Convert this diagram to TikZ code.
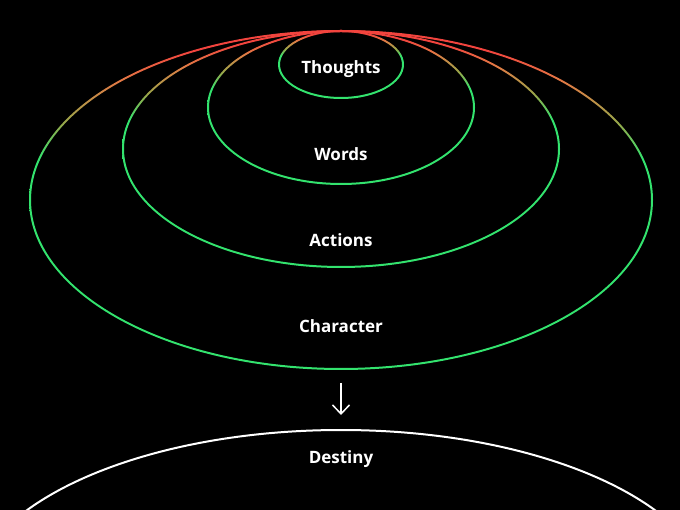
\documentclass[tikz,border=0pt]{standalone}
\usepackage{fontspec}
\newfontfamily\lblfont{Open Sans}
\usetikzlibrary{arrows.meta}

\definecolor{ringgreen}{HTML}{33E36E}
\definecolor{ringolive}{HTML}{9AA64A}
\definecolor{ringorange}{HTML}{E27A45}
\definecolor{ringred}{HTML}{F2443E}

% stroke colour of each ring: red at its top, green from about 40% down
\pgfdeclareverticalshading{ringfade}{100bp}{%
  color(0bp)=(ringgreen); color(56bp)=(ringgreen); color(61.5bp)=(ringolive);
  color(67.5bp)=(ringorange); color(72bp)=(ringred); color(100bp)=(ringred)}

\tikzset{
  ring/.style={shading=ringfade, even odd rule},
  lbl/.style={text=white, font=\lblfont\bfseries\fontsize{17}{20}\selectfont, inner sep=0pt},
  flow/.style={draw=white, line width=1.5, -{Straight Barb[length=9pt,width=17pt,line width=1.5pt]}},
  fate/.style={draw=white, line width=2}
}

% ring of width 2 around an ellipse: centre y, x radius, y radius
\newcommand\gradring[3]{%
  \shade[ring] (341,#1) ellipse [x radius=#2+1, y radius=#3+1]
               (341,#1) ellipse [x radius=#2-1, y radius=#3-1];}

\begin{document}
\begin{tikzpicture}[x=1pt, y=-1pt]
  \fill[black] (0,0) rectangle (680,510);
  \clip (0,0) rectangle (680,510);

  % nested rings, all touching at the top
  \gradring{200}{311}{169}
  \gradring{149}{218}{118}
  \gradring{107.5}{133}{76.5}
  \gradring{64.5}{62}{33.5}

  \node[lbl] (thoughts)  at (341,69.5)  {Thoughts};
  \node[lbl] (words)     at (341,154.5) {Words};
  \node[lbl] (actions)   at (341,240.5) {Actions};
  \node[lbl] (character) at (341,326.5) {Character};

  % arrow down to destiny
  \coordinate (arrtop) at (341,383);
  \coordinate (arrbot) at (341,415);
  \draw[flow] (arrtop) -- (arrbot);

  % destiny arc
  \draw[fate] (341,603) ellipse [x radius=372, y radius=173];
  \node[lbl] (destiny) at (341,459.5) {Destiny};
\end{tikzpicture}
\end{document}
